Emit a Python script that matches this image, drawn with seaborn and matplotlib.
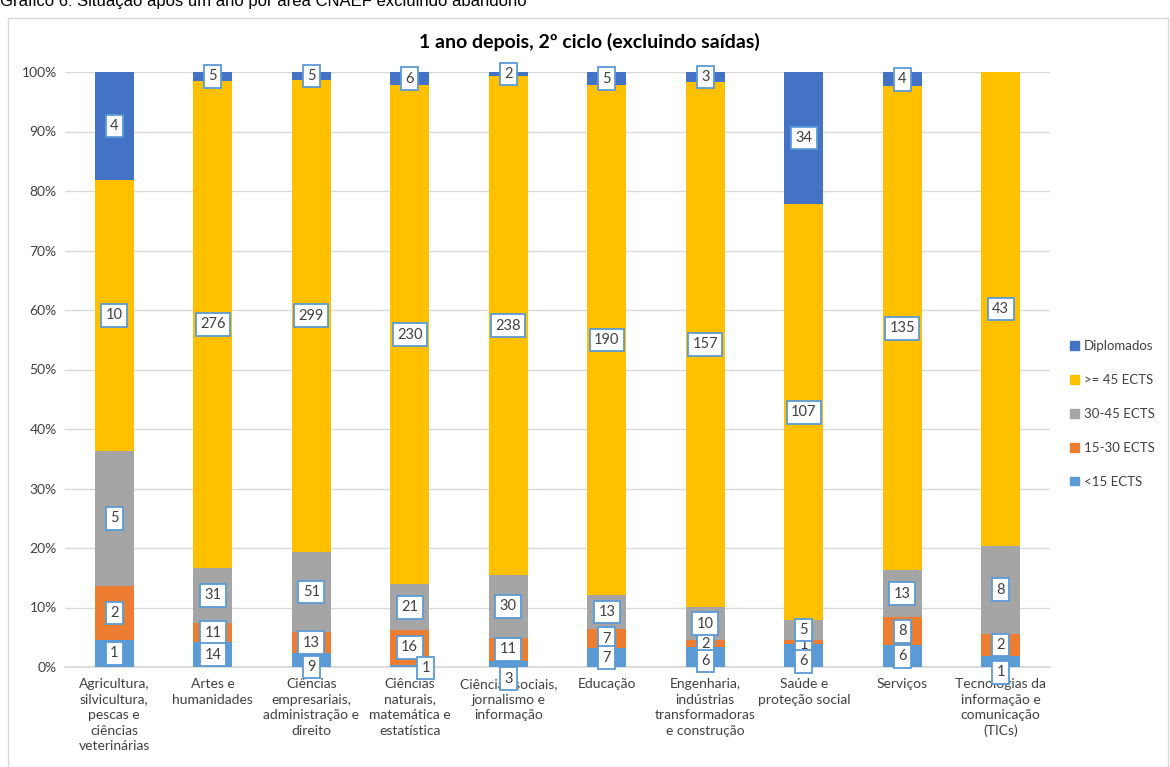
import matplotlib
matplotlib.use("Agg")
import matplotlib.pyplot as plt
import seaborn as sns
import pandas as pd
import numpy as np
from matplotlib.patches import Patch, Rectangle

categories = [
    "Agricultura,\nsilvicultura,\npescas e\nciências\nveterinárias",
    "Artes e\nhumanidades",
    "Ciências\nempresariais,\nadministração e\ndireito",
    "Ciências\nnaturais,\nmatemática e\nestatística",
    "Ciências sociais,\njornalismo e\ninformação",
    "Educação",
    "Engenharia,\nindústrias\ntransformadoras\ne construção",
    "Saúde e\nproteção social",
    "Serviços",
    "Tecnologias da\ninformação e\ncomunicação\n(TICs)",
]
lt15 = [1, 14, 9, 1, 3, 7, 6, 6, 6, 1]
e15_30 = [2, 11, 13, 16, 11, 7, 2, 1, 8, 2]
e30_45 = [5, 31, 51, 21, 30, 13, 10, 5, 13, 8]
ge45 = [10, 276, 299, 230, 238, 190, 157, 107, 135, 43]
diplomados = [4, 5, 5, 6, 2, 5, 3, 34, 4, 0]

series_names = ["<15 ECTS", "15-30 ECTS", "30-45 ECTS", ">= 45 ECTS", "Diplomados"]
series_vals = [lt15, e15_30, e30_45, ge45, diplomados]
colors = ["#5B9BD5", "#ED7D31", "#A5A5A5", "#FFC000", "#4472C4"]

sns.set_theme(style="white")
plt.rcParams['font.family'] = ['Lato', 'DejaVu Sans']

fig = plt.figure(figsize=(11.7, 7.67), dpi=100)
W, H = 1170, 767
ax = fig.add_axes([65 / W, 1 - 667 / H, (1050 - 65) / W, (667 - 72) / H])

vals = np.array(series_vals, dtype=float)
totals = vals.sum(axis=0)
pct = vals / totals * 100
cum = np.cumsum(pct, axis=0)

# draw from the top layer down so stacks show
for i in range(len(series_names) - 1, -1, -1):
    df = pd.DataFrame({"cat": categories, "v": cum[i]})
    sns.barplot(data=df, x="cat", y="v", color=colors[i], width=0.4,
                saturation=1, ax=ax, zorder=2, linewidth=0, edgecolor="none")

# label offsets (pixels) for crowded small segments
offsets = {(3, 0): (16, -2), (4, 0): (0, -15), (2, 0): (0, -7),
           (9, 0): (0, -11), (7, 1): (0, -3), (6, 0): (0, -4), (7, 0): (0, -6)}

for i in range(len(series_names)):
    for j in range(len(categories)):
        v = series_vals[i][j]
        if v == 0:
            continue
        yc = cum[i][j] - pct[i][j] / 2
        dx, dy = offsets.get((j, i), (0, 0))
        z = 6 if i == 0 else 5
        ax.annotate(str(v), (j, yc), xytext=(dx, dy), textcoords="offset pixels",
                    ha="center", va="center", fontsize=10.5, color="#404040",
                    zorder=z,
                    bbox=dict(boxstyle="square,pad=0.3", fc="white",
                              ec="#5B9BD5", lw=1.3))

ax.set_ylim(0, 100)
ax.set_xlim(-0.5, len(categories) - 0.5)
ax.set_yticks(np.arange(0, 101, 10))
ax.set_yticklabels([f"{t}%" for t in range(0, 101, 10)], fontsize=10, color="#404040")
ax.set_xticks(range(len(categories)))
ax.set_xticklabels(categories, fontsize=10, color="#404040", linespacing=1.35, va="top")
ax.tick_params(axis="x", length=0, pad=8)
ax.tick_params(axis="y", length=0, pad=6)
ax.set_xlabel("")
ax.set_ylabel("")
ax.yaxis.grid(True, color="#D9D9D9", lw=1, zorder=0)
ax.set_axisbelow(True)
for s in ["top", "right", "left"]:
    ax.spines[s].set_visible(False)
ax.spines["bottom"].set_color("#D9D9D9")
ax.spines["bottom"].set_zorder(1)

# legend
handles = [Patch(color=colors[i], label=series_names[i]) for i in range(4, -1, -1)]
fig.legend(handles=handles, loc="center left", bbox_to_anchor=(1070 / W, 1 - 414 / H),
           frameon=False, fontsize=9.5, handlelength=0.65, handleheight=0.65,
           handletextpad=0.4, labelspacing=1.65, labelcolor="#404040",
           borderpad=0, borderaxespad=0)

# chart frame
fig.patches.append(Rectangle((8 / W, 0), (1168 - 8) / W, 1 - 18 / H,
                             transform=fig.transFigure, fill=False,
                             ec="#D9D9D9", lw=1))

fig.text(589 / W, 1 - 42 / H, "1 ano depois, 2º ciclo (excluindo saídas)",
         ha="center", va="center", fontsize=14, fontweight="bold", color="#000000")
fig.text(0, 1 - 6 / H, "Gráfico 6: Situação após um ano por área CNAEF excluindo abandono",
         ha="left", va="baseline", fontsize=12, family="Liberation Sans", color="#000000")

fig.savefig("out.png", dpi=100)
